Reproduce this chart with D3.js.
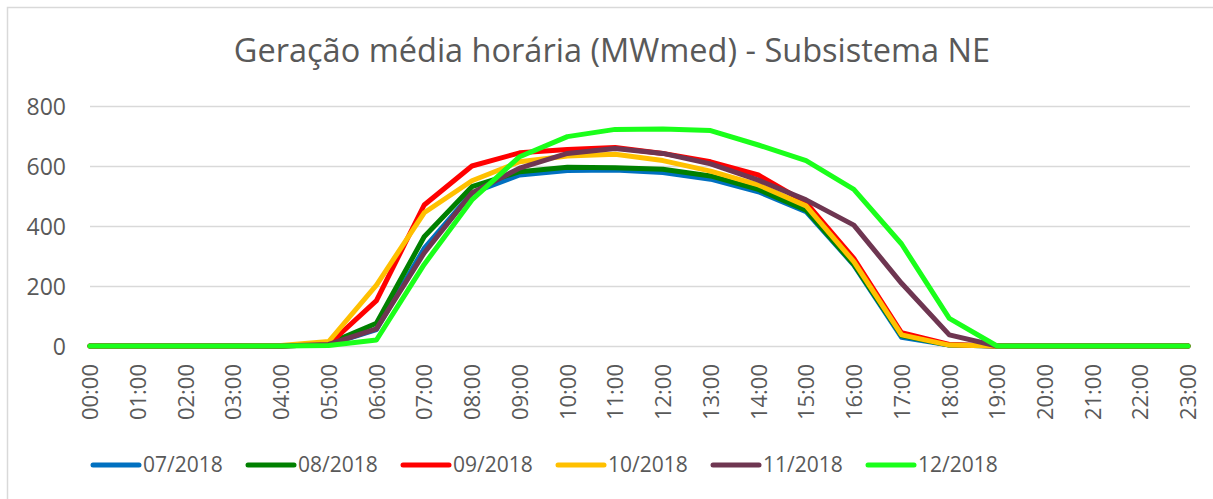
<!DOCTYPE html>
<html>
<head>
<meta charset="utf-8">
<script src="https://cdn.jsdelivr.net/npm/d3@7"></script>
<style>
  body { margin: 0; background: #fff; }
  text { font-family: "Open Sans", sans-serif; fill: #595959; }
</style>
</head>
<body>
<div id="d3"></div>
<script>
const hours = ["00:00","01:00","02:00","03:00","04:00","05:00","06:00","07:00","08:00","09:00","10:00","11:00",
               "12:00","13:00","14:00","15:00","16:00","17:00","18:00","19:00","20:00","21:00","22:00","23:00"];
const months = ["07/2018", "08/2018", "09/2018", "10/2018", "11/2018", "12/2018"];
const colors = ["#0070C0", "#008000", "#FF0000", "#FFC000", "#6E3651", "#1AFF1A"];

const jul = [0,0,0,0,0,5,55,325,510,570,585,587,578,556,514,448,270,29,3,0,0,0,0,0];
const aug = [0,0,0,0,0,8,76,364,531,581,596,594,589,567,522,453,272,35,3,0,0,0,0,0];
const sep = [0,0,0,0,0,5,151,470,600,644,655,662,642,614,570,478,292,44,5,0,0,0,0,0];
const oct = [0,0,0,0,2,15,203,444,551,614,633,639,618,583,537,467,281,37,3,0,0,0,0,0];
const nov = [0,0,0,0,0,5,57,310,510,593,642,658,642,607,553,487,403,209,37,0,0,0,0,0];
const dec = [0,0,0,0,0,2,20,272,487,631,698,722,723,718,670,618,522,340,92,0,0,0,0,0];
const yTicks = [0, 200, 400, 600, 800];

const series = [jul, aug, sep, oct, nov, dec];

const width = 1213;
const height = 499;

const chart = d3.select("#d3").append("svg")
  .attr("width", width)
  .attr("height", height);

// chart border
chart.append("rect")
  .attr("x", 7.5).attr("y", 7.5)
  .attr("width", 1220).attr("height", 520)
  .attr("fill", "none")
  .attr("stroke", "#D9D9D9")
  .attr("stroke-width", 1.5);

chart.append("text")
  .attr("x", 612)
  .attr("y", 62)
  .attr("text-anchor", "middle")
  .style("font-size", "32.5px")
  .text("Geração média horária (MWmed) - Subsistema NE");

const x = d3.scalePoint()
  .domain(hours)
  .range([90, 1188]);

const y = d3.scaleLinear()
  .domain([0, 800])
  .range([346, 106]);

// gridlines
chart.append("g")
  .selectAll("line")
  .data(yTicks)
  .enter()
  .append("line")
  .attr("x1", 90)
  .attr("x2", 1190)
  .attr("y1", d => y(d) + 0.5)
  .attr("y2", d => y(d) + 0.5)
  .attr("stroke", "#D9D9D9")
  .attr("stroke-width", 1.5);

const yAxis = chart.append("g")
  .attr("transform", "translate(66, 0)")
  .call(d3.axisLeft(y).tickValues(yTicks).tickSize(0).tickPadding(0));
yAxis.select(".domain").remove();
yAxis.selectAll("text")
  .style("font-size", "23px")
  .attr("fill", "#595959")
  .attr("dy", "0.35em");

const xAxis = chart.append("g")
  .attr("transform", "translate(0, 346)")
  .call(d3.axisBottom(x).tickSize(0).tickPadding(0));
xAxis.select(".domain").remove();
xAxis.selectAll("text")
  .style("font-size", "22px")
  .attr("fill", "#595959")
  .attr("text-anchor", "end")
  .attr("transform", "rotate(-90)")
  .attr("x", -18)
  .attr("y", 0)
  .attr("dy", "0.35em");

const line = d3.line()
  .x((d, i) => x(hours[i]))
  .y(d => y(d));

chart.append("g")
  .selectAll("path")
  .data(series)
  .enter()
  .append("path")
  .attr("d", line)
  .attr("fill", "none")
  .attr("stroke", (d, i) => colors[i])
  .attr("stroke-width", 5)
  .attr("stroke-linejoin", "round")
  .attr("stroke-linecap", "round");

// legend
const legend = chart.append("g")
  .selectAll("g")
  .data(months)
  .enter()
  .append("g")
  .attr("transform", (d, i) => `translate(${93 + i * 155}, 465)`);

legend.append("line")
  .attr("x1", 0).attr("x2", 46)
  .attr("y1", 0).attr("y2", 0)
  .attr("stroke", (d, i) => colors[i])
  .attr("stroke-width", 5)
  .attr("stroke-linecap", "round");

legend.append("text")
  .attr("x", 50)
  .attr("y", 0)
  .attr("dy", "0.35em")
  .style("font-size", "21px")
  .text(d => d);
</script>
</body>
</html>
